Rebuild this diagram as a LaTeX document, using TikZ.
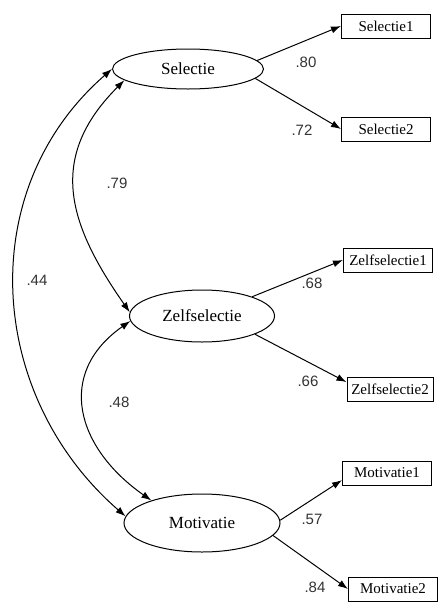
\documentclass[tikz,border=0pt]{standalone}
\usepackage{fontspec}
\setmainfont{Liberation Serif}
\newfontfamily\numfont{Liberation Sans}
\usetikzlibrary{positioning,shapes.geometric,arrows.meta}

\begin{document}
\begin{tikzpicture}[x=1pt, y=1pt, >={Latex[length=10pt,width=7pt]}]
\tikzset{
    latent/.style={ellipse, draw=black, line width=1pt, inner sep=0pt, font=\fontsize{17}{17}\selectfont},
    manifest/.style={rectangle, draw=black, line width=1pt, minimum width=89pt, minimum height=24pt, inner sep=0pt, font=\fontsize{15}{15}\selectfont},
    weight/.style={text=black!80, inner sep=0pt, font=\numfont\fontsize{15}{15}\selectfont},
    load/.style={->, line width=1pt},
    cov/.style={<->, line width=1pt}
}
\useasboundingbox (0,0) rectangle (441,-611);

% nodes
\node[latent, minimum width=151pt, minimum height=40pt] (sel) at (188,-69)  {Selectie};
\node[latent, minimum width=145pt, minimum height=52pt] (zel) at (202,-316) {Zelfselectie};
\node[latent, minimum width=156pt, minimum height=58pt] (mot) at (202,-523) {Motivatie};

\node[manifest]                     (sel1) at (386,-26)  {Selectie1};
\node[manifest]                     (sel2) at (386,-129) {Selectie2};
\node[manifest]                     (zel1) at (388,-260) {Zelfselectie1};
\node[manifest, minimum width=86pt] (zel2) at (390,-389) {Zelfselectie2};
\node[manifest]                     (mot1) at (387,-473) {Motivatie1};
\node[manifest]                     (mot2) at (393,-589) {Motivatie2};

% weights
\node[weight] (wsel1) at (306,-62)  {.80};
\node[weight] (wsel2) at (302,-130) {.72};
\node[weight] (wzel1) at (312,-283) {.68};
\node[weight] (wzel2) at (308,-381) {.66};
\node[weight] (wmot1) at (312,-519) {.57};
\node[weight] (wmot2) at (315,-587) {.84};
\node[weight] (rselzel) at (117,-183) {.79};
\node[weight] (rselmot) at (37,-280)  {.44};
\node[weight] (rzelmot) at (119,-402) {.48};

% arrows
\draw[load] (sel.7) -- (sel1.west);
\draw[load] (sel.-8) -- (sel2.west);
\draw[load] (zel.21) -- (zel1.west);
\draw[load] (zel.-19) -- (zel2.171);
\draw[load] (mot.2) -- (mot1.189);
\draw[load] (mot.-10) -- (mot2.west);

% correlations
\draw[cov] (sel.190) to[out=225, in=125, looseness=1.2] (zel.177);
\draw[cov] (sel.180) to[out=221, in=139, looseness=1.05] (mot.175);
\draw[cov] (zel.184) to[out=215, in=145, looseness=1.3] (mot.156);

\end{tikzpicture}
\end{document}
